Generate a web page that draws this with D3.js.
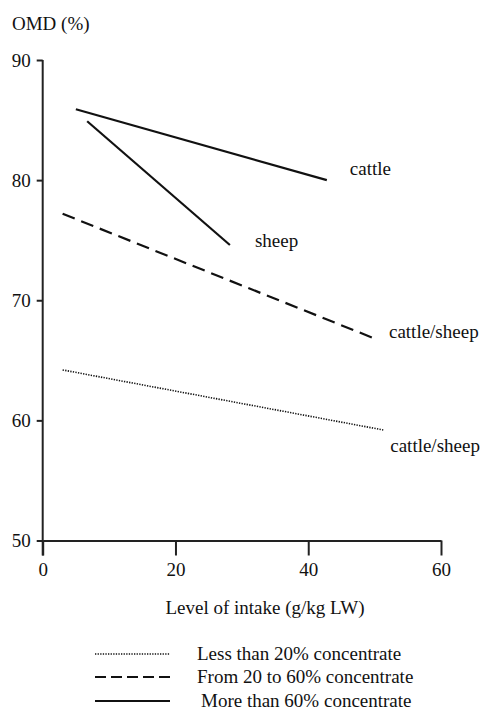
<!DOCTYPE html>
<html>
<head>
<meta charset="utf-8">
<script src="https://cdn.jsdelivr.net/npm/d3@7"></script>
<style>
  html, body { margin: 0; padding: 0; background: #fff; }
  svg { display: block; }
  text { font-family: "Liberation Serif", "DejaVu Serif", serif; fill: #111; }
</style>
</head>
<body>
<svg id="chart" width="483" height="712"></svg>
<script>
// Organic matter digestibility vs. level of intake, by concentrate share
const xTicks = [0, 20, 40, 60];
const yTicks = [50, 60, 70, 80, 90];

// Each regression line: [intake g/kg LW, OMD %] at both ends
const cattleHigh = [[5.0, 85.9], [42.8, 80.0]];
const sheepHigh  = [[6.7, 84.9], [28.2, 74.6]];
const mixedMid   = [[3.0, 77.2], [49.6, 66.9]];
const mixedLow   = [[3.0, 64.2], [51.3, 59.2]];

const lineLabels = ["cattle", "sheep", "cattle/sheep", "cattle/sheep"];
const legendLabels = ["Less than 20% concentrate", "From 20 to 60% concentrate", "More than 60% concentrate"];

const FONT = "Liberation Serif, DejaVu Serif, serif";
const FS = 19;

const svg = d3.select("#chart");
const x = d3.scaleLinear().domain([0, 60]).range([42.7, 441]);
const y = d3.scaleLinear().domain([50, 90]).range([540.5, 60]);

const styles = {
  solid:  { dash: null,      width: 2.2 },
  dashed: { dash: "13,7",    width: 2.2 },
  dotted: { dash: "1.3,1.3", width: 1.6 }
};

// Axes
const yAxis = svg.append("g")
  .attr("transform", `translate(${x(0)},0)`)
  .call(d3.axisLeft(y).tickValues(yTicks).tickSize(6).tickSizeOuter(0).tickPadding(6));
const xAxis = svg.append("g")
  .attr("transform", `translate(0,${y(50)})`)
  .call(d3.axisBottom(x).tickValues(xTicks).tickSize(15).tickSizeOuter(0).tickPadding(7));

[yAxis, xAxis].forEach(g => {
  g.select(".domain").attr("stroke", "#222").attr("stroke-width", 2);
  g.selectAll(".tick line").attr("stroke", "#222").attr("stroke-width", 2);
  g.selectAll(".tick text")
    .attr("font-family", FONT)
    .attr("font-size", FS).attr("fill", "#111");
});
// the vertical axis runs down past the baseline, as long as the intake ticks
yAxis.select(".domain").attr("d", `M0,${y(90)}V${y(50) + 15}`);

svg.append("text").attr("x", 12).attr("y", 30).attr("font-size", FS).text("OMD (%)");
svg.append("text").attr("x", 265).attr("y", 614)
  .attr("text-anchor", "middle").attr("font-size", FS).text("Level of intake (g/kg LW)");

// Regression lines
const line = d3.line().x(d => x(d[0])).y(d => y(d[1]));
const series = [
  { pts: cattleHigh, st: styles.solid,  label: lineLabels[0], dx: 23, dy: -5 },
  { pts: sheepHigh,  st: styles.solid,  label: lineLabels[1], dx: 25, dy: 2 },
  { pts: mixedMid,   st: styles.dashed, label: lineLabels[2], dx: 17, dy: 1 },
  { pts: mixedLow,   st: styles.dotted, label: lineLabels[3], dx: 7,  dy: 22 }
];

svg.append("g").selectAll("path").data(series).join("path")
  .attr("d", d => line(d.pts))
  .attr("fill", "none").attr("stroke", "#111")
  .attr("stroke-width", d => d.st.width)
  .attr("stroke-dasharray", d => d.st.dash);

svg.append("g").selectAll("text").data(series).join("text")
  .attr("x", d => x(d.pts[1][0]) + d.dx)
  .attr("y", d => y(d.pts[1][1]) + d.dy)
  .attr("font-size", FS)
  .text(d => d.label);

// Legend
const legendStyles = [styles.dotted, styles.dashed, styles.solid];
const lg = svg.append("g");
const rows = [655, 678, 702];
legendLabels.forEach((t, i) => {
  const st = legendStyles[i];
  lg.append("line").attr("x1", 95).attr("x2", 170).attr("y1", rows[i] - 1).attr("y2", rows[i] - 1)
    .attr("stroke", "#111").attr("stroke-width", st.width)
    .attr("stroke-dasharray", i === 1 ? "11,5" : st.dash);
  lg.append("text").attr("x", i === 2 ? 201 : 197).attr("y", rows[i] + 5)
    .attr("font-size", FS).text(t);
});
</script>
</body>
</html>
